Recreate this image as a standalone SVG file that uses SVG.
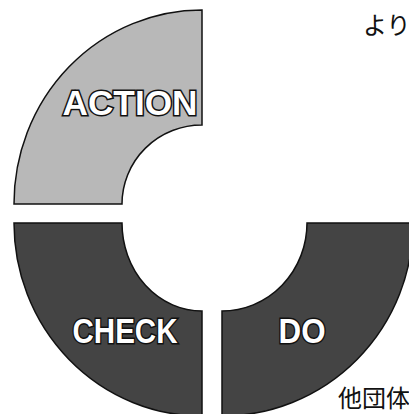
<svg xmlns="http://www.w3.org/2000/svg" width="409" height="414" viewBox="0 0 409 414">
  <style>
    .seg { stroke: #111; stroke-width: 1.5; stroke-linejoin: miter; }
    .light { fill: #b8b8b8; }
    .dark { fill: #444; }
    .lbl { font-family: "Liberation Sans", Arial, sans-serif; font-weight: bold; font-size: 35px; fill: #fff; stroke: #111; stroke-width: 3; paint-order: stroke; text-anchor: middle; }
    .jp { font-family: "Noto Sans CJK JP", "Noto Sans CJK SC", sans-serif; font-size: 24px; fill: #111; }
  </style>
  <rect width="409" height="414" fill="#fff"/>
  <g id="action">
    <path class="seg light" d="M14,204 A188,194 0 0 1 202,10 L202,125 A80,79 0 0 0 122,204 Z"/>
    <text class="lbl" x="130" y="115" textLength="135" lengthAdjust="spacingAndGlyphs">ACTION</text>
  </g>
  <g id="check">
    <path class="seg dark" d="M14,223 L122,223 A80,88 0 0 0 202,311 L202,416 A188,193 0 0 1 14,223 Z"/>
    <text class="lbl" x="125" y="343" textLength="105" lengthAdjust="spacingAndGlyphs">CHECK</text>
  </g>
  <g id="do">
    <path class="seg dark" d="M307,223 L413,223 A191,193 0 0 1 222,416 L222,311 A85,88 0 0 0 307,223 Z"/>
    <text class="lbl" x="302" y="343" textLength="47" lengthAdjust="spacingAndGlyphs">DO</text>
  </g>
  <g id="connectors"></g>
  <text class="jp" x="363" y="34">より</text>
  <text class="jp" x="338" y="407" font-size="22">他団体</text>
</svg>
